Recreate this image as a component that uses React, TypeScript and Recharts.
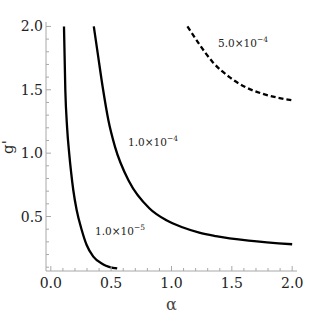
import React from 'react';
import { LineChart, Line, XAxis, YAxis, Label } from 'recharts';

// Contour 1.0×10^-5
const curveA = [
  { a: 0.109, g: 2.0 },
  { a: 0.12, g: 1.5 },
  { a: 0.135, g: 1.2 },
  { a: 0.152, g: 1.0 },
  { a: 0.168, g: 0.85 },
  { a: 0.186, g: 0.709 },
  { a: 0.214, g: 0.551 },
  { a: 0.256, g: 0.394 },
  { a: 0.297, g: 0.275 },
  { a: 0.352, g: 0.183 },
  { a: 0.435, g: 0.122 },
  { a: 0.55, g: 0.09 },
];
// Contour 1.0×10^-4
const curveB = [
  { a: 0.356, g: 2.0 },
  { a: 0.389, g: 1.785 },
  { a: 0.43, g: 1.52 },
  { a: 0.477, g: 1.26 },
  { a: 0.532, g: 1.05 },
  { a: 0.65, g: 0.774 },
  { a: 0.816, g: 0.565 },
  { a: 0.954, g: 0.472 },
  { a: 1.09, g: 0.415 },
  { a: 1.23, g: 0.373 },
  { a: 1.367, g: 0.346 },
  { a: 1.64, g: 0.31 },
  { a: 2.0, g: 0.281 },
];
// Contour 5.0×10^-4 (dashed)
const curveC = [
  { a: 1.132, g: 2.0 },
  { a: 1.23, g: 1.86 },
  { a: 1.34, g: 1.72 },
  { a: 1.48, g: 1.6 },
  { a: 1.615, g: 1.52 },
  { a: 1.75, g: 1.47 },
  { a: 2.0, g: 1.417 },
];

const xTicks = Array.from({ length: 21 }, (_, i) => i / 10);
const yTicks = Array.from({ length: 20 }, (_, i) => (i + 1) / 10);

const FRAME = '#a8a8a8';
const SERIF = 'DejaVu Serif';
const serifStyle = { fontFamily: "'DejaVu Serif', 'Liberation Serif', serif" };

const isMajor = (v: number) => Math.abs(v * 2 - Math.round(v * 2)) < 1e-6;

const BottomTick = (props: any) => {
  const { x, y, payload } = props;
  const v = payload.value;
  const major = isMajor(v);
  return (
    <g>
      <line x1={x} x2={x} y1={y} y2={y - (major ? 5 : 3)} stroke={FRAME} strokeWidth={1} />
      {major && (
        <text x={x} y={y + 17} textAnchor="middle" fontFamily={SERIF} style={serifStyle} fontSize={14} fill="#222">
          {v.toFixed(1)}
        </text>
      )}
    </g>
  );
};
const TopTick = (props: any) => {
  const { x, y, payload } = props;
  const major = isMajor(payload.value);
  return <line x1={x} x2={x} y1={y} y2={y + (major ? 5 : 3)} stroke={FRAME} strokeWidth={1} />;
};
const LeftTick = (props: any) => {
  const { x, y, payload } = props;
  const v = payload.value;
  const major = isMajor(v);
  return (
    <g>
      <line x1={x} x2={x + (major ? 5 : 3)} y1={y} y2={y} stroke={FRAME} strokeWidth={1} />
      {major && (
        <text x={x - 3} y={y + 5} textAnchor="end" fontFamily={SERIF} style={serifStyle} fontSize={14} fill="#222">
          {v.toFixed(1)}
        </text>
      )}
    </g>
  );
};
const RightTick = (props: any) => {
  const { x, y, payload } = props;
  const major = isMajor(payload.value);
  return <line x1={x} x2={x - (major ? 5 : 3)} y1={y} y2={y} stroke={FRAME} strokeWidth={1} />;
};

const ContourLabel = ({ x, y, mant, exp }: { x: number; y: number; mant: string; exp: string }) => (
  <text x={x} y={y} fontFamily={SERIF} style={serifStyle} fontSize={10.5} fill="#222">
    {mant}×10
    <tspan dy={-5} fontSize={7.5}>{exp}</tspan>
  </text>
);

export default function App() {
  return (
    <div style={{ position: 'absolute', left: 0, top: 0, background: '#fff' }}>
      <LineChart width={319} height={315} margin={{ top: 22, right: 22, left: 0, bottom: 0 }}>
        <XAxis
          xAxisId="b"
          dataKey="a"
          type="number"
          domain={[-0.04, 2.04]}
          allowDataOverflow
          ticks={xTicks}
          interval={0}
          tickSize={0}
          tickMargin={0}
          tickLine={false}
          tick={<BottomTick />}
          axisLine={{ stroke: FRAME }}
          height={44}
        >
          <Label
            content={(p: any) => {
              const vb = p.viewBox;
              return (
                <text x={vb.x + vb.width / 2} y={310} textAnchor="middle" fontFamily={SERIF} style={serifStyle} fontSize={16} fill="#444">
                  α
                </text>
              );
            }}
          />
        </XAxis>
        <XAxis
          xAxisId="t"
          orientation="top"
          dataKey="a"
          type="number"
          domain={[-0.04, 2.04]}
          allowDataOverflow
          ticks={xTicks}
          interval={0}
          tickSize={0}
          tickMargin={0}
          tickLine={false}
          tick={<TopTick />}
          axisLine={{ stroke: FRAME }}
          height={0}
        />
        <YAxis
          yAxisId="l"
          type="number"
          domain={[0.07, 2.035]}
          allowDataOverflow
          ticks={yTicks}
          interval={0}
          tickSize={0}
          tickMargin={0}
          tickLine={false}
          tick={<LeftTick />}
          axisLine={{ stroke: FRAME }}
          width={46}
        >
          <Label
            content={() => (
              <text x={13} y={147} textAnchor="middle" fontFamily={SERIF} style={serifStyle} fontSize={15} fill="#222" transform="rotate(-90 13 147)">
                g'
              </text>
            )}
          />
        </YAxis>
        <YAxis
          yAxisId="r"
          orientation="right"
          type="number"
          domain={[0.07, 2.035]}
          allowDataOverflow
          ticks={yTicks}
          interval={0}
          tickSize={0}
          tickMargin={0}
          tickLine={false}
          tick={<RightTick />}
          axisLine={{ stroke: FRAME }}
          width={0}
        />
        <Line xAxisId="b" yAxisId="l" data={curveA} dataKey="g" type="monotone" stroke="#000" strokeWidth={2.3} dot={false} isAnimationActive={false} />
        <Line xAxisId="b" yAxisId="l" data={curveB} dataKey="g" type="monotone" stroke="#000" strokeWidth={2.3} dot={false} isAnimationActive={false} />
        <Line xAxisId="b" yAxisId="l" data={curveC} dataKey="g" type="monotone" stroke="#000" strokeWidth={2.3} strokeDasharray="5 3" dot={false} isAnimationActive={false} />
      </LineChart>
      <svg width={319} height={315} style={{ position: 'absolute', left: 0, top: 0, pointerEvents: 'none' }}>
        <ContourLabel x={95} y={235} mant="1.0" exp="−5" />
        <ContourLabel x={128} y={146} mant="1.0" exp="−4" />
        <ContourLabel x={218} y={47} mant="5.0" exp="−4" />
      </svg>
    </div>
  );
}
